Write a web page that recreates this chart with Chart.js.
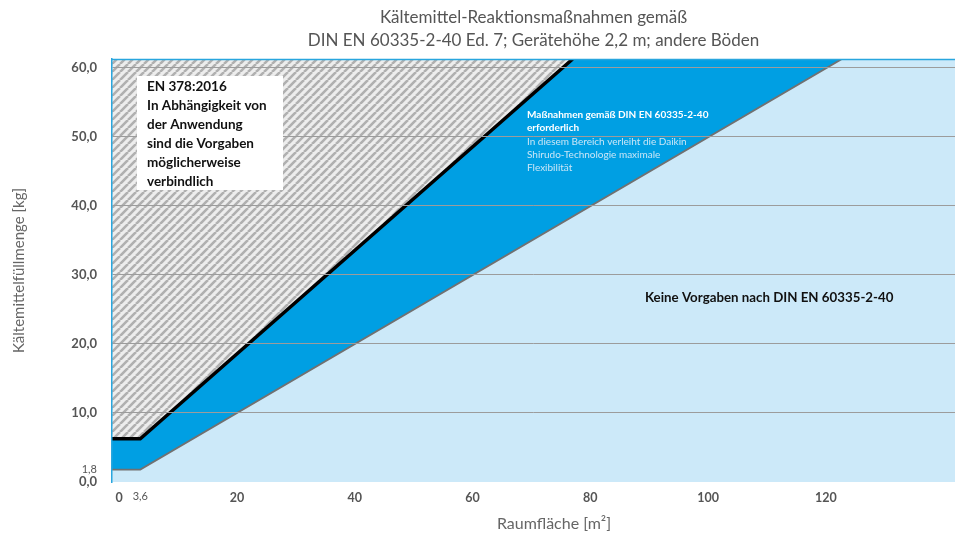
<!DOCTYPE html>
<html>
<head>
<meta charset="utf-8">
<script src="https://cdn.jsdelivr.net/npm/chart.js@4/dist/chart.umd.min.js"></script>
<style>
  html, body { margin: 0; padding: 0; background: #fff; }
  #wrap { width: 960px; height: 538px; }
</style>
</head>
<body>
<div id="wrap"><canvas id="chart"></canvas></div>
<script>
// axis ranges and ticks (m² / kg)
const xMin = -1.2, xMax = 141.9;
const yMin = 0, yMax = 61.3;
const xTicks = [0, 3.6, 20, 40, 60, 80, 100, 120];
const yTicks = [0, 1.8, 10, 20, 30, 40, 50, 60];

// EN 378 limit (black line)
const limitX = [-1.2, 3.6, 77.0];
const limitY = [6.25, 6.25, 61.3];
// upper edge of the "Maßnahmen erforderlich" band
const bandX = [-1.2, 3.6, 77.0, 122.7];
const bandY = [6.25, 6.25, 61.3, 61.3];
// lower limit (grey line), last point runs along the top edge to close the light fill
const lowerX = [-1.2, 3.6, 122.7, 141.9];
const lowerY = [1.8, 1.8, 61.3, 61.3];

const FONT = "Lato";
const darkBlue = "#009fe3";
const lightBlue = "#cce9f9";

function pts(xs, ys) {
  return xs.map((x, i) => ({ x, y: ys[i] }));
}

function fmt(v) {
  return v.toFixed(1).replace(".", ",");
}

function makeHatch() {
  const s = 8;
  const c = document.createElement("canvas");
  c.width = s; c.height = s;
  const g = c.getContext("2d");
  g.fillStyle = "#ededed";
  g.fillRect(0, 0, s, s);
  g.strokeStyle = "#b0b0b0";
  g.lineWidth = 2.6;
  g.beginPath();
  for (let k = -1; k <= 1; k++) {
    g.moveTo(k * s, s);
    g.lineTo(k * s + s, 0);
  }
  g.stroke();
  return g.createPattern(c, "repeat");
}

const decor = {
  id: "decor",
  beforeDraw(chart) {
    const { ctx, chartArea: a } = chart;
    ctx.save();
    ctx.fillStyle = lightBlue;
    ctx.fillRect(a.left, a.top, a.right - a.left, a.bottom - a.top);
    ctx.restore();
  },
  afterDraw(chart) {
    const { ctx, chartArea: a } = chart;
    ctx.save();
    // top border
    ctx.strokeStyle = "#29a6de";
    ctx.lineWidth = 1.5;
    ctx.beginPath();
    ctx.moveTo(a.left, a.top + 0.5);
    ctx.lineTo(a.right, a.top + 0.5);
    ctx.stroke();

    // titles
    ctx.fillStyle = "#555";
    ctx.textAlign = "center";
    ctx.textBaseline = "middle";
    ctx.font = "17px " + FONT;
    const cx = (a.left + a.right) / 2;
    ctx.fillText("Kältemittel-Reaktionsmaßnahmen gemäß", cx, 18);
    ctx.fillText("DIN EN 60335-2-40 Ed. 7; Gerätehöhe 2,2 m; andere Böden", cx, 41);
    ctx.fillStyle = "#666";
    ctx.font = "16px " + FONT;
    ctx.fillText("Raumfläche [m²]", 554, 524);

    // EN 378 box
    ctx.fillStyle = "#fff";
    ctx.fillRect(137, 76, 146, 114);
    ctx.fillStyle = "#111";
    ctx.textAlign = "left";
    ctx.font = "bold 13.5px " + FONT;
    ["EN 378:2016", "In Abhängigkeit von", "der Anwendung", "sind die Vorgaben",
     "möglicherweise", "verbindlich"].forEach((t, i) => ctx.fillText(t, 147, 87 + i * 19));

    // dark blue band text
    ctx.fillStyle = "#fff";
    ctx.font = "bold 10px " + FONT;
    ctx.fillText("Maßnahmen gemäß DIN EN 60335-2-40", 527, 115);
    ctx.fillText("erforderlich", 527, 128);
    ctx.fillStyle = "#c9e6f7";
    ctx.font = "10px " + FONT;
    ctx.fillText("In diesem Bereich verleiht die Daikin", 527, 142);
    ctx.fillText("Shirudo-Technologie maximale", 527, 155);
    ctx.fillText("Flexibilität", 527, 168);

    // light blue area text
    ctx.fillStyle = "#111";
    ctx.font = "bold 13.3px " + FONT;
    ctx.fillText("Keine Vorgaben nach DIN EN 60335-2-40", 645, 298);
    ctx.restore();
  }
};

const ctx = document.getElementById("chart").getContext("2d");
new Chart(ctx, {
  type: "line",
  plugins: [decor],
  data: {
    datasets: [
      {
        label: "EN 378",
        data: pts(limitX, limitY),
        borderColor: "#000",
        borderWidth: 3.5,
        fill: "end",
        backgroundColor: makeHatch(),
        pointRadius: 0,
        order: 0
      },
      {
        label: "Untergrenze",
        data: pts(lowerX, lowerY),
        borderColor: "#717171",
        borderWidth: 1.9,
        clip: { left: 0, top: 0, right: 0, bottom: 0 },
        fill: "start",
        backgroundColor: lightBlue,
        pointRadius: 0,
        order: 1
      },
      {
        label: "Maßnahmen erforderlich",
        data: pts(bandX, bandY),
        borderWidth: 0,
        borderColor: "rgba(0,0,0,0)",
        fill: "start",
        backgroundColor: darkBlue,
        pointRadius: 0,
        order: 2
      }
    ]
  },
  options: {
    responsive: true,
    maintainAspectRatio: false,
    animation: false,
    layout: { padding: { top: 59, right: 5, bottom: 0, left: 0 } },
    plugins: {
      legend: { display: false },
      tooltip: { enabled: false },
      title: { display: false }
    },
    scales: {
      x: {
        type: "linear",
        min: xMin,
        max: xMax,
        afterBuildTicks: s => { s.ticks = xTicks.map(v => ({ value: v })); },
        afterFit: s => { s.height = 56; },
        grid: { display: false, drawTicks: false },
        border: { display: false },
        ticks: {
          autoSkip: false,
          maxRotation: 0,
          padding: 8,
          color: "#555",
          font: c => c.tick && c.tick.value === 3.6
            ? { family: FONT, size: 11, weight: "normal" }
            : { family: FONT, size: 12.5, weight: "bold" },
          callback: v => v === 3.6 ? "3,6" : String(v)
        }
      },
      y: {
        min: yMin,
        max: yMax,
        afterBuildTicks: s => { s.ticks = yTicks.map(v => ({ value: v })); },
        afterFit: s => { s.width = 112; },
        grid: {
          z: 1,
          drawTicks: false,
          lineWidth: 1,
          color: c => (c.tick && c.tick.value >= 10) ? "#9c9c9c" : "rgba(0,0,0,0)"
        },
        border: { display: true, color: "#29a6de", width: 1.5, z: 2 },
        title: {
          display: true,
          text: "Kältemittelfüllmenge [kg]",
          color: "#666",
          font: { family: FONT, size: 15 },
          padding: { top: 10, bottom: 0 }
        },
        ticks: {
          autoSkip: false,
          padding: 15,
          color: "#555",
          font: c => c.tick && c.tick.value === 1.8
            ? { family: FONT, size: 11, weight: "normal" }
            : { family: FONT, size: 13, weight: "bold" },
          callback: v => fmt(v)
        }
      }
    }
  }
});
</script>
</body>
</html>
